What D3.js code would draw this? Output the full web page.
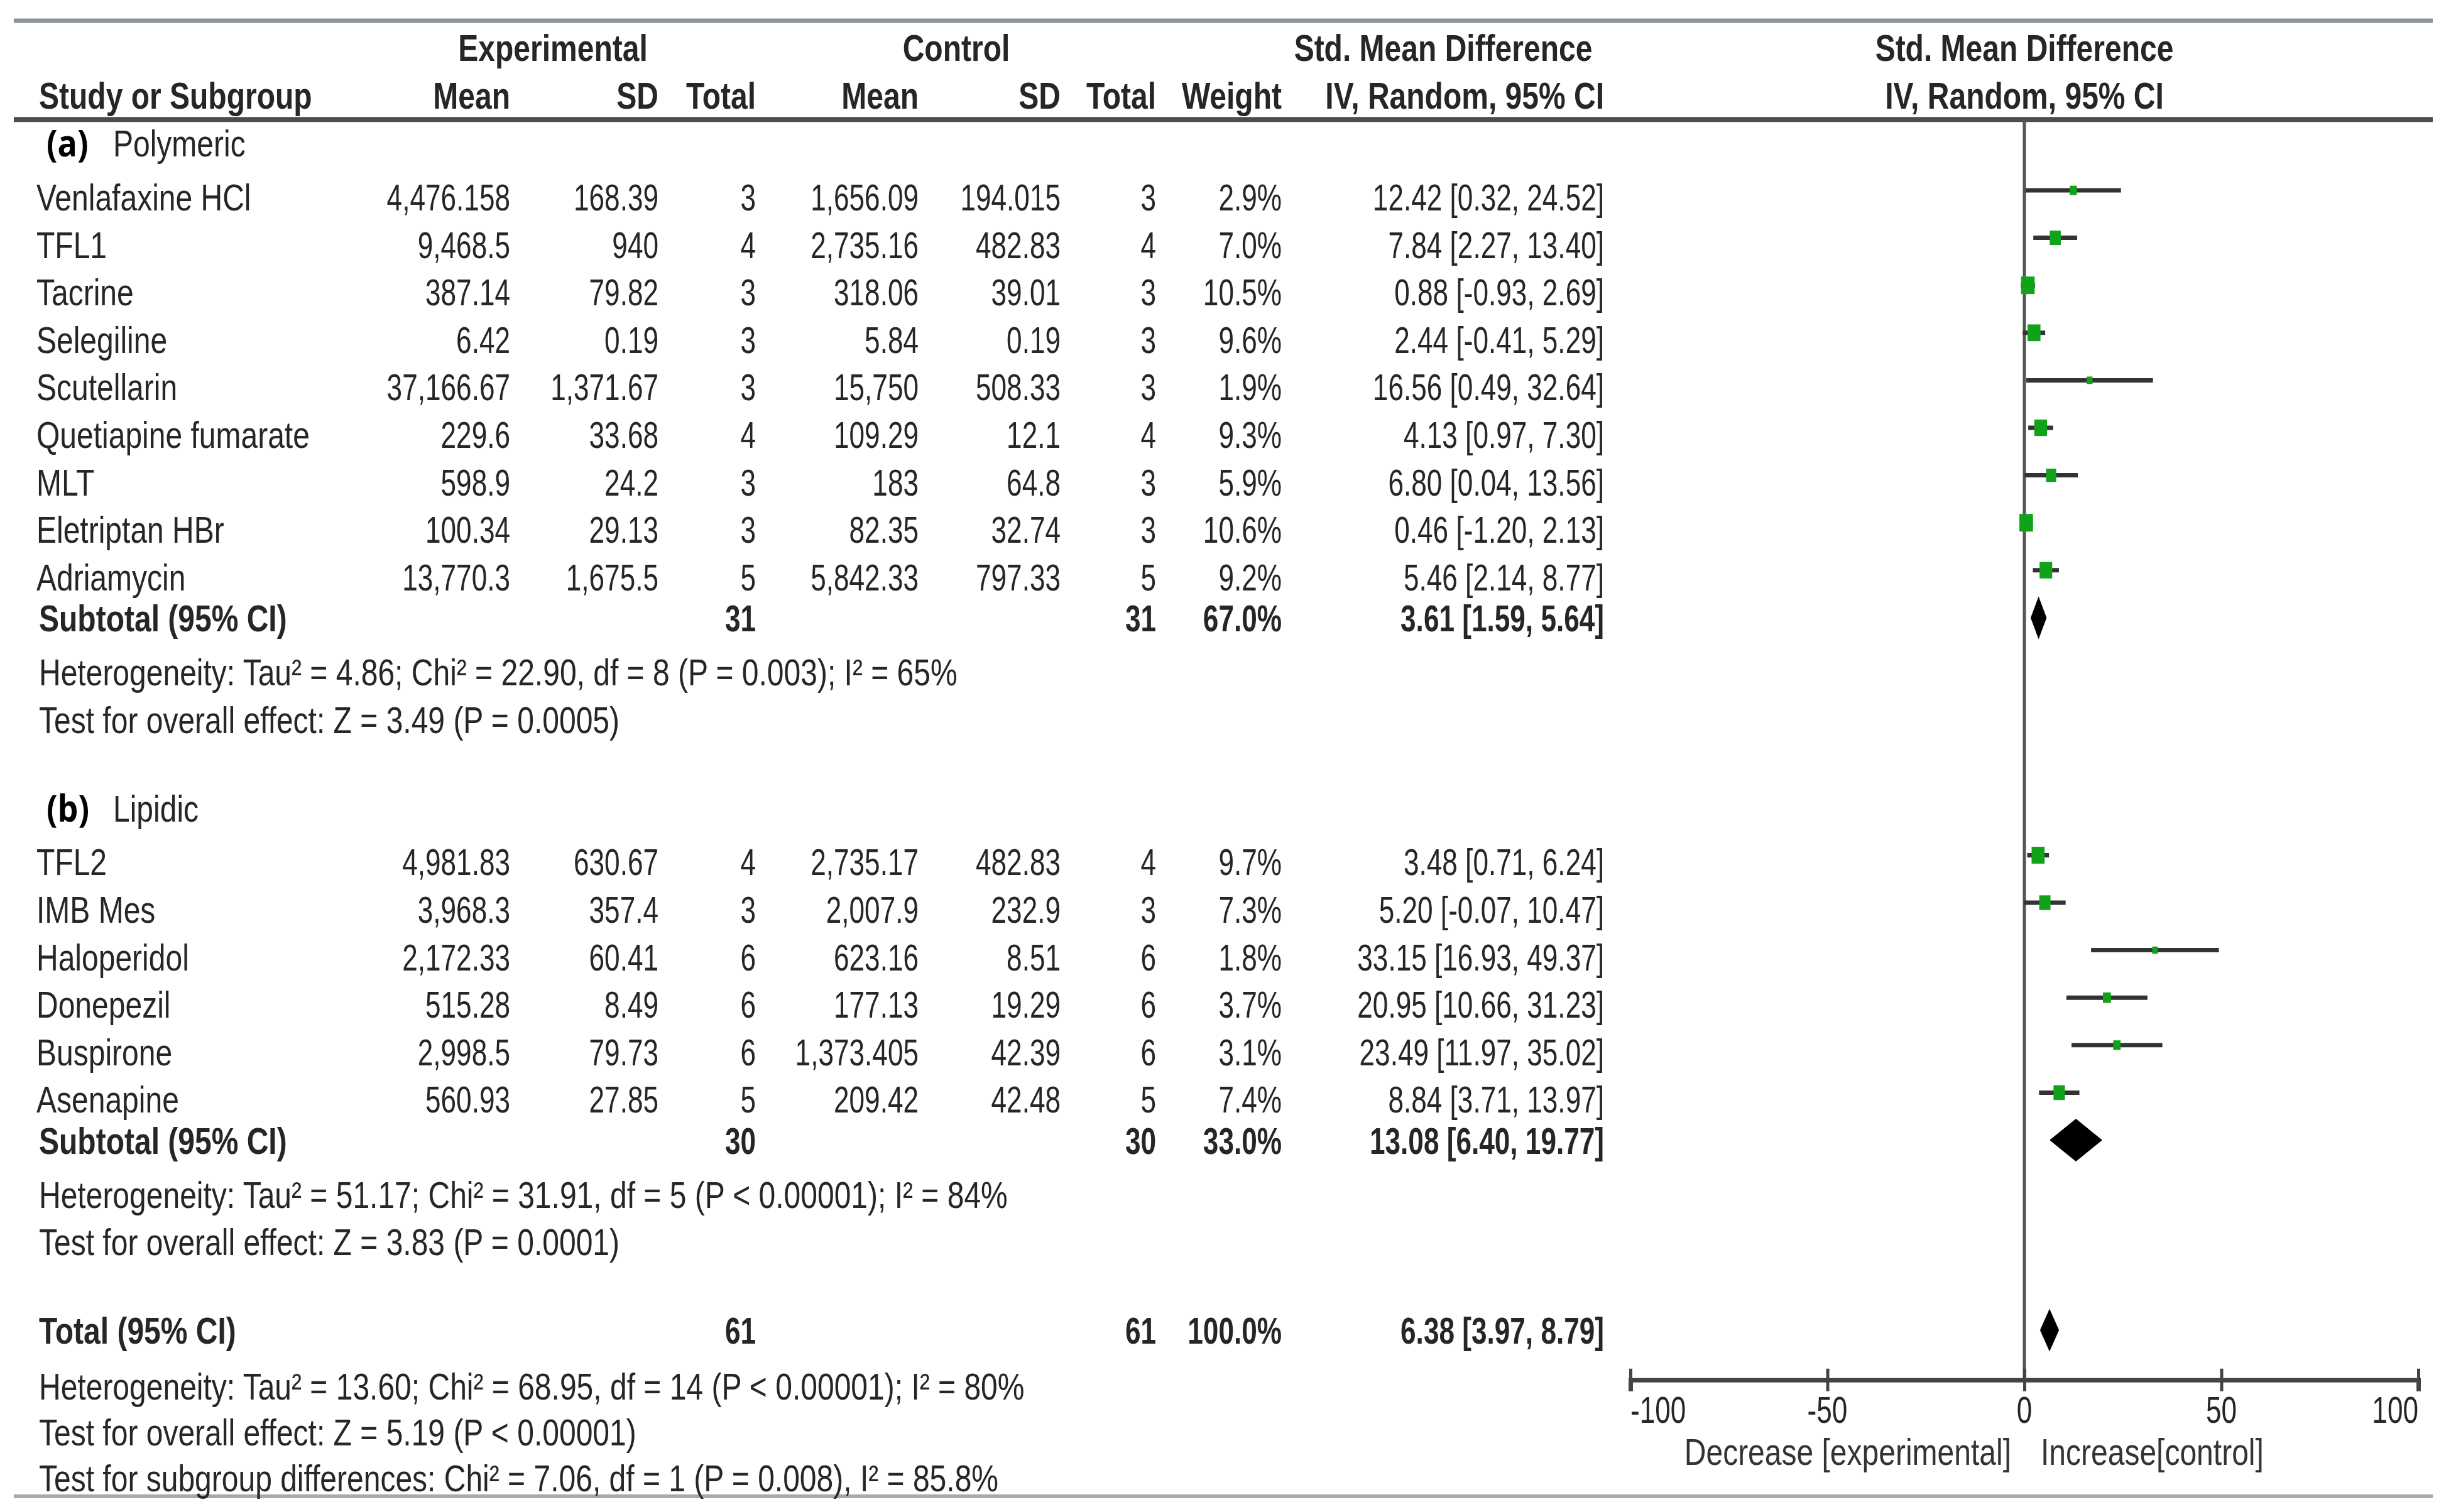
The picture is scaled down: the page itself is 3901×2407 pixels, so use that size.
<!DOCTYPE html>
<html>
<head>
<meta charset="utf-8">
<script src="https://cdn.jsdelivr.net/npm/d3@7"></script>
<style>
  body { margin: 0; background: #fff; }
  svg { display: block; font-family: "Liberation Sans", Arial, sans-serif; }
</style>
</head>
<body>
<svg id="chart" width="3901" height="2407"></svg>
<script>
//study data, one entry per row of the table
const studyNames = ["Venlafaxine HCl", "TFL1", "Tacrine", "Selegiline", "Scutellarin", "Quetiapine fumarate", "MLT", "Eletriptan HBr", "Adriamycin",
	"TFL2", "IMB Mes", "Haloperidol", "Donepezil", "Buspirone", "Asenapine"];
const studyGroup = [0, 0, 0, 0, 0, 0, 0, 0, 0, 1, 1, 1, 1, 1, 1];
const expMean = [4476.158, 9468.5, 387.14, 6.42, 37166.67, 229.6, 598.9, 100.34, 13770.3, 4981.83, 3968.3, 2172.33, 515.28, 2998.5, 560.93];
const expSD = [168.39, 940, 79.82, 0.19, 1371.67, 33.68, 24.2, 29.13, 1675.5, 630.67, 357.4, 60.41, 8.49, 79.73, 27.85];
const expN = [3, 4, 3, 3, 3, 4, 3, 3, 5, 4, 3, 6, 6, 6, 5];
const ctlMean = [1656.09, 2735.16, 318.06, 5.84, 15750, 109.29, 183, 82.35, 5842.33, 2735.17, 2007.9, 623.16, 177.13, 1373.405, 209.42];
const ctlSD = [194.015, 482.83, 39.01, 0.19, 508.33, 12.1, 64.8, 32.74, 797.33, 482.83, 232.9, 8.51, 19.29, 42.39, 42.48];
const ctlN = [3, 4, 3, 3, 3, 4, 3, 3, 5, 4, 3, 6, 6, 6, 5];
const weight = [2.9, 7.0, 10.5, 9.6, 1.9, 9.3, 5.9, 10.6, 9.2, 9.7, 7.3, 1.8, 3.7, 3.1, 7.4];
const smd = [12.42, 7.84, 0.88, 2.44, 16.56, 4.13, 6.80, 0.46, 5.46, 3.48, 5.20, 33.15, 20.95, 23.49, 8.84];
const ciLow = [0.32, 2.27, -0.93, -0.41, 0.49, 0.97, 0.04, -1.20, 2.14, 0.71, -0.07, 16.93, 10.66, 11.97, 3.71];
const ciHigh = [24.52, 13.40, 2.69, 5.29, 32.64, 7.30, 13.56, 2.13, 8.77, 6.24, 10.47, 49.37, 31.23, 35.02, 13.97];

//subgroups
const groupTags = ["(a)", "(b)"];
const groupNames = ["Polymeric", "Lipidic"];
const groupN = [31, 30];
const groupWeight = [67.0, 33.0];
const groupSmd = [3.61, 13.08];
const groupLow = [1.59, 6.40];
const groupHigh = [5.64, 19.77];
const groupHetero = [
	"Heterogeneity: Tau\u00b2 = 4.86; Chi\u00b2 = 22.90, df = 8 (P = 0.003); I\u00b2 = 65%",
	"Heterogeneity: Tau\u00b2 = 51.17; Chi\u00b2 = 31.91, df = 5 (P < 0.00001); I\u00b2 = 84%"
];
const groupEffect = [
	"Test for overall effect: Z = 3.49 (P = 0.0005)",
	"Test for overall effect: Z = 3.83 (P = 0.0001)"
];

//overall
const totalN = 61;
const totalWeight = 100.0;
const totalSmd = 6.38;
const totalLow = 3.97;
const totalHigh = 8.79;
const totalNotes = [
	"Heterogeneity: Tau\u00b2 = 13.60; Chi\u00b2 = 68.95, df = 14 (P < 0.00001); I\u00b2 = 80%",
	"Test for overall effect: Z = 5.19 (P < 0.00001)",
	"Test for subgroup differences: Chi\u00b2 = 7.06, df = 1 (P = 0.008), I\u00b2 = 85.8%"
];

//axis
const xTicks = [-100, -50, 0, 50, 100];
const axisLabels = ["Decrease [experimental]", "Increase[control]"];

//look
const TEXT = "#262626";
const FS = 48;
const SY = 1.25;
const NUM_SX = 0.92;

let svg = d3.select("#chart");

//row slots -> y (one slot per table line)
let y = d3.scaleLinear().domain([0, 1]).range([303, 378.6]);
let baseOff = 32;
let sumOff = 22;

//forest plot scale
let x = d3.scaleLinear().domain([-100, 100]).range([2595, 3849]);

//column right edges
let colX = { name: 58, eMean: 812, eSD: 1048, eN: 1203, cMean: 1462, cSD: 1688, cN: 1840, w: 2040, ci: 2553 };

function label(parent, px, py, str, o) {
	o = o || {};
	return parent.append("text")
		.attr("transform", "translate(" + px + "," + py + ") scale(" + (o.sx || 1) + "," + (o.sy || SY) + ")")
		.attr("text-anchor", o.anchor || "start")
		.attr("fill", o.color || TEXT)
		.style("font-size", (o.size || FS) + "px")
		.style("font-weight", o.bold ? "bold" : "normal")
		.style("font-family", o.family || null)
		.text(str);
}

let fmt = d3.format(",");
let f2 = function(v) { return v.toFixed(2); };
let ciText = function(m, lo, hi) { return f2(m) + " [" + f2(lo) + ", " + f2(hi) + "]"; };
let pct = function(v) { return v.toFixed(1) + "%"; };

//rules
let rules = svg.append("g");
rules.append("line").attr("x1", 22).attr("x2", 3872).attr("y1", y(-3.57)).attr("y2", y(-3.57))
	.attr("stroke", "#8c9399").attr("stroke-width", 7);
rules.append("line").attr("x1", 22).attr("x2", 3872).attr("y1", y(-1.49)).attr("y2", y(-1.49))
	.attr("stroke", "#4d4d4d").attr("stroke-width", 8);
rules.append("line").attr("x1", 22).attr("x2", 3872).attr("y1", y(27.5)).attr("y2", y(27.5))
	.attr("stroke", "#a4abb0").attr("stroke-width", 6);

//headers
let head = svg.append("g");
let h1 = y(-3.15) + baseOff, h2 = y(-2.14) + baseOff;
label(head, 880, h1, "Experimental", { anchor: "middle", bold: true });
label(head, 1522, h1, "Control", { anchor: "middle", bold: true });
label(head, 2297, h1, "Std. Mean Difference", { anchor: "middle", bold: true });
label(head, x(0), h1, "Std. Mean Difference", { anchor: "middle", bold: true });
label(head, 62, h2, "Study or Subgroup", { bold: true });
label(head, colX.eMean, h2, "Mean", { anchor: "end", bold: true });
label(head, colX.eSD, h2, "SD", { anchor: "end", bold: true });
label(head, colX.eN, h2, "Total", { anchor: "end", bold: true });
label(head, colX.cMean, h2, "Mean", { anchor: "end", bold: true });
label(head, colX.cSD, h2, "SD", { anchor: "end", bold: true });
label(head, colX.cN, h2, "Total", { anchor: "end", bold: true });
label(head, colX.w, h2, "Weight", { anchor: "end", bold: true });
label(head, colX.ci, h2, "IV, Random, 95% CI", { anchor: "end", bold: true });
label(head, x(0), h2, "IV, Random, 95% CI", { anchor: "middle", bold: true });

//zero line
svg.append("line")
	.attr("x1", x(0)).attr("x2", x(0))
	.attr("y1", y(-1.49)).attr("y2", y(25.05))
	.attr("stroke", "#555").attr("stroke-width", 5);

//slot of each study row
let groupStart = [0, 14];
let slotOf = studyNames.map(function(d, i) {
	let g = studyGroup[i];
	let k = studyGroup.slice(0, i).filter(function(v) { return v === g; }).length;
	return groupStart[g] + k;
});

//table cells for studies
let rows = svg.append("g").attr("class", "rows");
studyNames.forEach(function(name, i) {
	let by = y(slotOf[i]) + baseOff;
	label(rows, colX.name, by, name);
	label(rows, colX.eMean, by, fmt(expMean[i]), { anchor: "end", sx: NUM_SX });
	label(rows, colX.eSD, by, fmt(expSD[i]), { anchor: "end", sx: NUM_SX });
	label(rows, colX.eN, by, expN[i], { anchor: "end", sx: NUM_SX });
	label(rows, colX.cMean, by, fmt(ctlMean[i]), { anchor: "end", sx: NUM_SX });
	label(rows, colX.cSD, by, fmt(ctlSD[i]), { anchor: "end", sx: NUM_SX });
	label(rows, colX.cN, by, ctlN[i], { anchor: "end", sx: NUM_SX });
	label(rows, colX.w, by, pct(weight[i]), { anchor: "end", sx: NUM_SX });
	label(rows, colX.ci, by, ciText(smd[i], ciLow[i], ciHigh[i]), { anchor: "end", sx: NUM_SX });
});

//subgroup headings, subtotals and notes
groupNames.forEach(function(name, g) {
	let s0 = groupStart[g];
	let nRows = studyGroup.filter(function(v) { return v === g; }).length;
	let hy = y(s0 - 1.0) + sumOff;
	label(rows, 74, hy, groupTags[g], { bold: true, color: "#000", size: 52, sy: 1.12, family: "'Open Sans', 'Noto Sans', sans-serif" });
	label(rows, 180, hy, name);

	let sy = y(s0 + nRows) + sumOff;
	label(rows, 62, sy, "Subtotal (95% CI)", { bold: true });
	label(rows, colX.eN, sy, groupN[g], { anchor: "end", bold: true, sx: NUM_SX });
	label(rows, colX.cN, sy, groupN[g], { anchor: "end", bold: true, sx: NUM_SX });
	label(rows, colX.w, sy, pct(groupWeight[g]), { anchor: "end", bold: true, sx: NUM_SX });
	label(rows, colX.ci, sy, ciText(groupSmd[g], groupLow[g], groupHigh[g]), { anchor: "end", bold: true, sx: NUM_SX });

	label(rows, 62, y(s0 + nRows + 1) + baseOff, groupHetero[g]);
	label(rows, 62, y(s0 + nRows + 2) + baseOff, groupEffect[g]);
});

//total row
let ty = y(24) + sumOff;
label(rows, 62, ty, "Total (95% CI)", { bold: true });
label(rows, colX.eN, ty, totalN, { anchor: "end", bold: true, sx: NUM_SX });
label(rows, colX.cN, ty, totalN, { anchor: "end", bold: true, sx: NUM_SX });
label(rows, colX.w, ty, pct(totalWeight), { anchor: "end", bold: true, sx: NUM_SX });
label(rows, colX.ci, ty, ciText(totalSmd, totalLow, totalHigh), { anchor: "end", bold: true, sx: NUM_SX });
let noteSlots = [25.04, 26.0, 26.97];
totalNotes.forEach(function(t, i) {
	label(rows, 62, y(noteSlots[i]) + baseOff, t);
});

//whiskers and squares
let plot = svg.append("g").attr("class", "forest");
let side = d3.scaleSqrt().domain([0, 10]).range([0, 21]);

plot.selectAll(".ci")
	.data(studyNames)
	.enter()
	.append("line")
	.attr("class", "ci")
	.attr("x1", function(d, i) { return x(ciLow[i]); })
	.attr("x2", function(d, i) { return x(ciHigh[i]); })
	.attr("y1", function(d, i) { return y(slotOf[i]); })
	.attr("y2", function(d, i) { return y(slotOf[i]); })
	.attr("stroke", "#333")
	.attr("stroke-width", 7);

plot.selectAll(".pt")
	.data(studyNames)
	.enter()
	.append("rect")
	.attr("class", "pt")
	.attr("x", function(d, i) { return x(smd[i]) - side(weight[i]) / 2; })
	.attr("y", function(d, i) { return y(slotOf[i]) - side(weight[i]) * 1.3 / 2; })
	.attr("width", function(d, i) { return side(weight[i]); })
	.attr("height", function(d, i) { return side(weight[i]) * 1.3; })
	.attr("fill", "#10a31a");

//diamonds
let diamonds = groupSmd.map(function(m, g) {
	return { m: m, lo: groupLow[g], hi: groupHigh[g], slot: groupStart[g] + studyGroup.filter(function(v) { return v === g; }).length };
});
diamonds.push({ m: totalSmd, lo: totalLow, hi: totalHigh, slot: 24 });
let dh = 34;
plot.selectAll(".diamond")
	.data(diamonds)
	.enter()
	.append("path")
	.attr("class", "diamond")
	.attr("d", function(d) {
		let cy = y(d.slot);
		return "M" + x(d.lo) + "," + cy + "L" + x(d.m) + "," + (cy - dh) +
			"L" + x(d.hi) + "," + cy + "L" + x(d.m) + "," + (cy + dh) + "Z";
	})
	.attr("fill", "#000");

//x axis
let axisY = y(25.05);
let axis = svg.append("g")
	.attr("transform", "translate(0," + axisY + ")")
	.call(d3.axisBottom(x).tickValues(xTicks).tickSizeOuter(0).tickSize(18).tickFormat(""));
axis.select(".domain").attr("stroke", "#444").attr("stroke-width", 7);
axis.selectAll(".tick line").attr("y1", -18).attr("y2", 18).attr("stroke", "#444").attr("stroke-width", 5);

xTicks.forEach(function(v, i) {
	let anchor = i === 0 ? "start" : (i === xTicks.length - 1 ? "end" : "middle");
	label(svg, x(v), axisY + 68, v, { anchor: anchor, sx: NUM_SX });
});
label(svg, x(0) - 21, axisY + 135, axisLabels[0], { anchor: "end", color: "#333" });
label(svg, x(0) + 26, axisY + 135, axisLabels[1], { color: "#333" });
</script>
</body>
</html>
